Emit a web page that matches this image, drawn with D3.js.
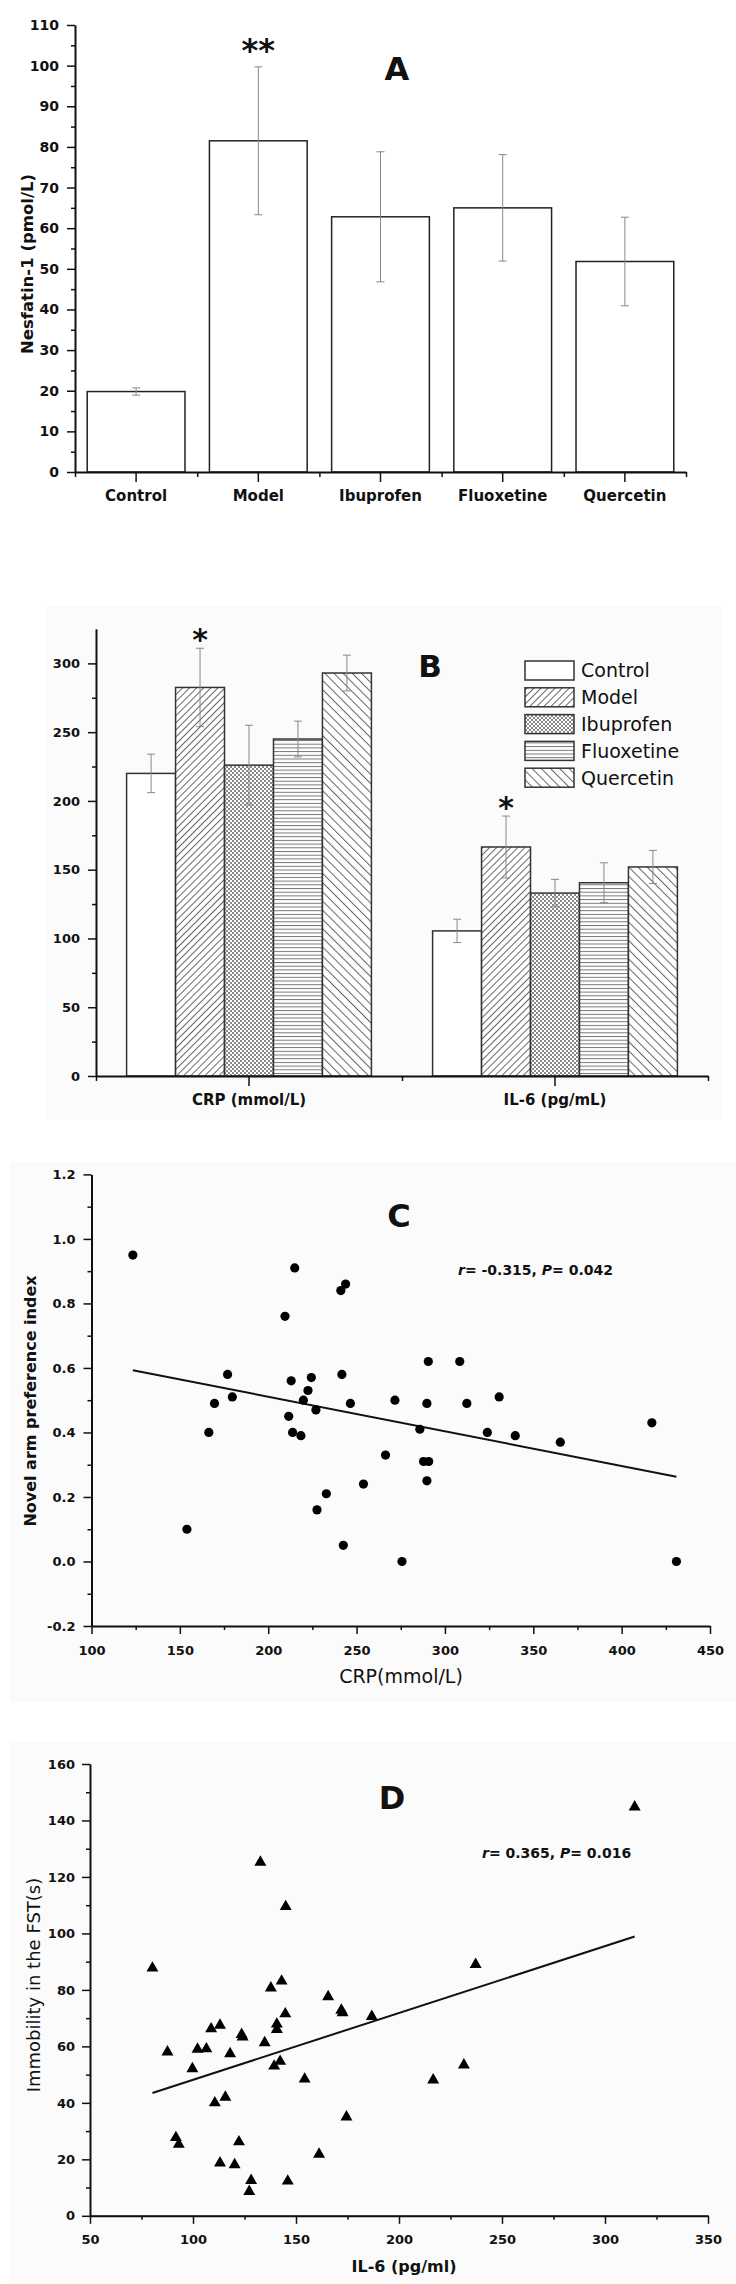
<!DOCTYPE html>
<html>
<head>
<meta charset="utf-8">
<script src="https://cdn.jsdelivr.net/npm/d3@7"></script>
<style>
body { margin: 0; background: #fff; }
text { font-family: "DejaVu Sans", sans-serif; fill: #111; }
</style>
</head>
<body>
<div id="chart"></div>
<script>
// ---- data ----
const groups = ["Control", "Model", "Ibuprofen", "Fluoxetine", "Quercetin"];

// panel A
const nesfatin = [19.8, 81.5, 62.8, 65.0, 51.8];
const nesfatinErr = [0.9, 18.2, 16.0, 13.1, 10.9];
const ticksA = [0, 10, 20, 30, 40, 50, 60, 70, 80, 90, 100, 110];

// panel B
const markers = ["CRP (mmol/L)", "IL-6 (pg/mL)"];
const crp = [220, 282.5, 226, 245, 293];
const crpErr = [14, 28.5, 29, 13, 13];
const il6 = [105.5, 166.5, 133, 140.5, 152];
const il6Err = [8.5, 22.5, 10, 14.5, 12];
const ticksB = [0, 50, 100, 150, 200, 250, 300];

// panel C
const crpC = [123.4, 154, 166.4, 169.6, 177, 179.7, 209.5, 211.6, 213, 213.8, 215, 218.5, 219.9, 222.5,
  224.4, 227, 227.6, 232.9, 241.1, 241.7, 242.5, 243.8, 246.5, 253.9, 266.4, 271.7, 275.7, 285.8,
  287.9, 289.8, 289.8, 290.6, 290.8, 308.4, 312.4, 324, 330.7, 339.8, 365.3, 417.1, 431];
const nariC = [0.95, 0.10, 0.40, 0.49, 0.58, 0.51, 0.76, 0.45, 0.56, 0.40, 0.91, 0.39, 0.50, 0.53,
  0.57, 0.47, 0.16, 0.21, 0.84, 0.58, 0.05, 0.86, 0.49, 0.24, 0.33, 0.50, 0.00, 0.41,
  0.31, 0.25, 0.49, 0.62, 0.31, 0.62, 0.49, 0.40, 0.51, 0.39, 0.37, 0.43, 0.00];
const fitC = [[123.4, 0.593], [431, 0.263]];

// panel D
const il6D = [80.3, 87.6, 91.7, 93.1, 99.7, 102.2, 106.5, 108.8, 110.6, 113.1, 113.1, 115.7, 118, 120.2,
  122.3, 123.6, 124.1, 128.2, 127.3, 132.7, 134.8, 137.8, 139.4, 142.3, 140.7, 140.7, 143, 144.8,
  145, 146, 154.2, 161.2, 165.6, 172, 172.6, 174.5, 186.8, 216.6, 231.5, 237.2, 314.4];
const immobD = [87.7, 58.0, 27.7, 25.3, 52.1, 59, 59.1, 66.2, 40, 67.5, 18.7, 42, 57.4, 18.1,
  26.2, 64.2, 63.3, 12.5, 8.6, 125.2, 61.3, 80.7, 53, 54.7, 67.9, 66, 83.1, 71.5,
  109.5, 12.3, 48.4, 21.8, 77.6, 72.8, 71.9, 35, 70.6, 48.1, 53.4, 89, 144.8];
const fitD = [[80.3, 43.5], [314.4, 98.9]];

// ---- svg ----
const svg = d3.select("#chart").append("svg")
  .attr("width", 736).attr("height", 2284);

// very faint panel backgrounds
svg.append("rect").attr("x", 45).attr("y", 606).attr("width", 677).attr("height", 514).attr("fill", "#fbfbfb");
svg.append("rect").attr("x", 10).attr("y", 1162).attr("width", 726).attr("height", 540).attr("fill", "#fbfbfb");
svg.append("rect").attr("x", 10).attr("y", 1742).attr("width", 726).attr("height", 542).attr("fill", "#fbfbfb");

const defs = svg.append("defs");
function hatch(id, size, angle, color) {
  const p = defs.append("pattern").attr("id", id).attr("patternUnits", "userSpaceOnUse")
    .attr("width", size).attr("height", size).attr("patternTransform", `rotate(${angle})`);
  p.append("rect").attr("width", size).attr("height", size).attr("fill", "#fff");
  p.append("line").attr("x1", 0.5).attr("y1", 0).attr("x2", 0.5).attr("y2", size)
    .attr("stroke", color).attr("stroke-width", 1);
}
hatch("pModel", 5, 45, "#666");
hatch("pQuer", 6.5, -45, "#666");
hatch("pFluo", 3.7, 90, "#777");
const pi = defs.append("pattern").attr("id", "pIbu").attr("patternUnits", "userSpaceOnUse")
  .attr("width", 4).attr("height", 4);
pi.append("rect").attr("width", 4).attr("height", 4).attr("fill", "#fff");
pi.append("rect").attr("width", 2).attr("height", 2).attr("fill", "#888");
pi.append("rect").attr("x", 2).attr("y", 2).attr("width", 2).attr("height", 2).attr("fill", "#888");
const fills = ["#fff", "url(#pModel)", "url(#pIbu)", "url(#pFluo)", "url(#pQuer)"];

function styleAxis(g, fs) {
  g.select(".domain").attr("stroke", "#111").attr("stroke-width", 2);
  g.selectAll(".tick line").attr("stroke", "#111").attr("stroke-width", 1.5);
  g.selectAll(".tick text").attr("font-size", fs).attr("font-weight", "bold").attr("fill", "#111")
    .attr("font-family", "DejaVu Sans");
}
function minorAxis(axis, vals, size) {
  return axis.tickValues(vals).tickSize(size).tickFormat("").tickSizeOuter(0);
}
function title(x, y, t, size) {
  svg.append("text").attr("x", x).attr("y", y).attr("text-anchor", "middle")
    .attr("font-size", size).attr("font-weight", "bold").text(t);
}

// ================= Panel A =================
const yA = d3.scaleLinear().domain([0, 110]).range([472, 25]);
const xA = d3.scaleBand().domain(groups).range([75, 686]).paddingInner(0.2).paddingOuter(0.1);
const gA = svg.append("g");

gA.selectAll("rect.bar").data(groups).join("rect")
  .attr("x", d => xA(d)).attr("width", xA.bandwidth())
  .attr("y", (d, i) => yA(nesfatin[i])).attr("height", (d, i) => yA(0) - yA(nesfatin[i]))
  .attr("fill", "#fff").attr("stroke", "#222").attr("stroke-width", 1.5);

groups.forEach((d, i) => {
  const cx = xA(d) + xA.bandwidth() / 2;
  const lo = yA(nesfatin[i] - nesfatinErr[i]), hi = yA(nesfatin[i] + nesfatinErr[i]);
  gA.append("line").attr("x1", cx).attr("x2", cx).attr("y1", lo).attr("y2", hi).attr("stroke", "#888");
  [lo, hi].forEach(y => gA.append("line").attr("x1", cx - 4).attr("x2", cx + 4).attr("y1", y).attr("y2", y).attr("stroke", "#888"));
});

gA.append("g").attr("transform", "translate(0,472)")
  .call(minorAxis(d3.axisBottom(d3.scaleLinear().domain([0, 5]).range([75, 686])), d3.range(0, 6), 5))
  .call(g => g.select(".domain").remove())
  .selectAll("line").attr("stroke", "#111").attr("stroke-width", 1.5);
gA.append("g").attr("transform", "translate(75,0)")
  .call(minorAxis(d3.axisLeft(yA), d3.range(5, 110, 10), 4))
  .selectAll("line").attr("stroke", "#111").attr("stroke-width", 1.5);
gA.append("g").attr("transform", "translate(0,472)")
  .call(d3.axisBottom(xA).tickSize(10).tickSizeOuter(0).tickPadding(8))
  .call(g => styleAxis(g, 15));
gA.append("g").attr("transform", "translate(75,0)")
  .call(d3.axisLeft(yA).tickValues(ticksA).tickSize(8).tickSizeOuter(0).tickPadding(8))
  .call(g => styleAxis(g, 14));

svg.append("text").attr("transform", "translate(33,264) rotate(-90)").attr("text-anchor", "middle")
  .attr("font-size", 16.5).attr("font-weight", "bold").text("Nesfatin-1 (pmol/L)");
title(397, 80, "A", 32);
title(xA("Model") + xA.bandwidth() / 2, yA(nesfatin[1] + nesfatinErr[1]) - 6, "**", 32);

// ================= Panel B =================
const yB = d3.scaleLinear().domain([0, 325]).range([1076, 629]);
const xB = d3.scaleBand().domain(markers).range([96, 708]).paddingInner(0.2).paddingOuter(0.1);
const xBi = d3.scaleBand().domain(groups).range([0, xB.bandwidth()]);
const gB = svg.append("g");
const seriesB = [crp, il6], errB = [crpErr, il6Err];

markers.forEach((m, k) => {
  groups.forEach((gname, i) => {
    const x = xB(m) + xBi(gname), v = seriesB[k][i], e = errB[k][i];
    gB.append("rect").attr("x", x).attr("width", xBi.bandwidth())
      .attr("y", yB(v)).attr("height", yB(0) - yB(v))
      .attr("fill", fills[i]).attr("stroke", "#333").attr("stroke-width", 1.5);
    const cx = x + xBi.bandwidth() / 2;
    gB.append("line").attr("x1", cx).attr("x2", cx).attr("y1", yB(v - e)).attr("y2", yB(v + e)).attr("stroke", "#888");
    [v - e, v + e].forEach(y => gB.append("line").attr("x1", cx - 4).attr("x2", cx + 4)
      .attr("y1", yB(y)).attr("y2", yB(y)).attr("stroke", "#888"));
  });
  title(xB(m) + xBi("Model") + xBi.bandwidth() / 2, yB(seriesB[k][1] + errB[k][1]) + 2, "*", 30);
});

gB.append("g").attr("transform", "translate(0,1076)")
  .call(minorAxis(d3.axisBottom(d3.scaleLinear().domain([0, 2]).range([96, 708])), [0, 1, 2], 5))
  .call(g => g.select(".domain").remove())
  .selectAll("line").attr("stroke", "#111").attr("stroke-width", 1.5);
gB.append("g").attr("transform", "translate(96,0)")
  .call(minorAxis(d3.axisLeft(yB), d3.range(25, 325, 50), 4))
  .selectAll("line").attr("stroke", "#111").attr("stroke-width", 1.5);
gB.append("g").attr("transform", "translate(0,1076)")
  .call(d3.axisBottom(xB).tickSize(10).tickSizeOuter(0).tickPadding(8))
  .call(g => styleAxis(g, 15));
gB.append("g").attr("transform", "translate(96,0)")
  .call(d3.axisLeft(yB).tickValues(ticksB).tickSize(8).tickSizeOuter(0).tickPadding(8))
  .call(g => styleAxis(g, 13));

title(430, 677, "B", 31);

// legend
const leg = svg.append("g").attr("transform", "translate(525,661)");
groups.forEach((gname, i) => {
  leg.append("rect").attr("x", 0).attr("y", i * 26.8).attr("width", 49).attr("height", 19)
    .attr("fill", fills[i]).attr("stroke", "#333").attr("stroke-width", 1.5);
  leg.append("text").attr("x", 56).attr("y", i * 26.8 + 9.5).attr("dy", "0.36em")
    .attr("font-size", 19).text(gname);
});

// ================= Panel C =================
const xC = d3.scaleLinear().domain([100, 450]).range([91.5, 710]);
const yC = d3.scaleLinear().domain([-0.2, 1.2]).range([1626, 1174.4]);
const gC = svg.append("g");

gC.append("g").attr("transform", "translate(0,1626)")
  .call(minorAxis(d3.axisBottom(xC), d3.range(125, 450, 50), 4))
  .selectAll("line").attr("stroke", "#111").attr("stroke-width", 1.5);
gC.append("g").attr("transform", "translate(91.5,0)")
  .call(minorAxis(d3.axisLeft(yC), [-0.1, 0.1, 0.3, 0.5, 0.7, 0.9, 1.1], 4))
  .selectAll("line").attr("stroke", "#111").attr("stroke-width", 1.5);
gC.append("g").attr("transform", "translate(0,1626)")
  .call(d3.axisBottom(xC).tickValues(d3.range(100, 451, 50)).tickSize(8).tickSizeOuter(0).tickPadding(12))
  .call(g => styleAxis(g, 13));
gC.append("g").attr("transform", "translate(91.5,0)")
  .call(d3.axisLeft(yC).tickValues([-0.2, 0, 0.2, 0.4, 0.6, 0.8, 1.0, 1.2]).tickSize(8).tickSizeOuter(0)
    .tickPadding(8).tickFormat(d => d.toFixed(1)))
  .call(g => styleAxis(g, 13));

gC.append("line").attr("x1", xC(fitC[0][0])).attr("y1", yC(fitC[0][1]))
  .attr("x2", xC(fitC[1][0])).attr("y2", yC(fitC[1][1])).attr("stroke", "#111").attr("stroke-width", 2);
gC.selectAll("circle").data(crpC).join("circle")
  .attr("cx", d => xC(d)).attr("cy", (d, i) => yC(nariC[i])).attr("r", 4.6).attr("fill", "#000");

svg.append("text").attr("transform", "translate(36,1401) rotate(-90)").attr("text-anchor", "middle")
  .attr("font-size", 16).attr("font-weight", "bold").text("Novel arm preference index");
svg.append("text").attr("x", 401).attr("y", 1683).attr("text-anchor", "middle")
  .attr("font-size", 19).text("CRP(mmol/L)");
title(399, 1227, "C", 32);
const annC = svg.append("text").attr("x", 458).attr("y", 1275).attr("font-size", 14).attr("font-weight", "bold");
annC.append("tspan").attr("font-style", "italic").text("r");
annC.append("tspan").text("= -0.315, ");
annC.append("tspan").attr("font-style", "italic").text("P");
annC.append("tspan").text("= 0.042");

// ================= Panel D =================
const xD = d3.scaleLinear().domain([50, 350]).range([90, 708]);
const yD = d3.scaleLinear().domain([0, 160]).range([2215.8, 1764]);
const gD = svg.append("g");

gD.append("g").attr("transform", "translate(0,2215.8)")
  .call(minorAxis(d3.axisBottom(xD), d3.range(75, 350, 50), 4))
  .selectAll("line").attr("stroke", "#111").attr("stroke-width", 1.5);
gD.append("g").attr("transform", "translate(90,0)")
  .call(minorAxis(d3.axisLeft(yD), d3.range(10, 160, 20), 4))
  .selectAll("line").attr("stroke", "#111").attr("stroke-width", 1.5);
gD.append("g").attr("transform", "translate(0,2215.8)")
  .call(d3.axisBottom(xD).tickValues(d3.range(50, 351, 50)).tickSize(8).tickSizeOuter(0).tickPadding(11))
  .call(g => styleAxis(g, 13));
gD.append("g").attr("transform", "translate(90,0)")
  .call(d3.axisLeft(yD).tickValues(d3.range(0, 161, 20)).tickSize(8).tickSizeOuter(0).tickPadding(7))
  .call(g => styleAxis(g, 13));

gD.append("line").attr("x1", xD(fitD[0][0])).attr("y1", yD(fitD[0][1]))
  .attr("x2", xD(fitD[1][0])).attr("y2", yD(fitD[1][1])).attr("stroke", "#111").attr("stroke-width", 2);
gD.selectAll("path.tri").data(il6D).join("path")
  .attr("transform", (d, i) => `translate(${xD(d)},${yD(immobD[i])})`)
  .attr("d", d3.symbol(d3.symbolTriangle, 62)).attr("fill", "#000");

svg.append("text").attr("transform", "translate(40,1985) rotate(-90)").attr("text-anchor", "middle")
  .attr("font-size", 18).text("Immobility in the FST(s)");
svg.append("text").attr("x", 404).attr("y", 2272).attr("text-anchor", "middle")
  .attr("font-size", 16).attr("font-weight", "bold").text("IL-6 (pg/ml)");
title(392, 1809, "D", 32);
const annD = svg.append("text").attr("x", 482).attr("y", 1858).attr("font-size", 14).attr("font-weight", "bold");
annD.append("tspan").attr("font-style", "italic").text("r");
annD.append("tspan").text("= 0.365, ");
annD.append("tspan").attr("font-style", "italic").text("P");
annD.append("tspan").text("= 0.016");
</script>
</body>
</html>
